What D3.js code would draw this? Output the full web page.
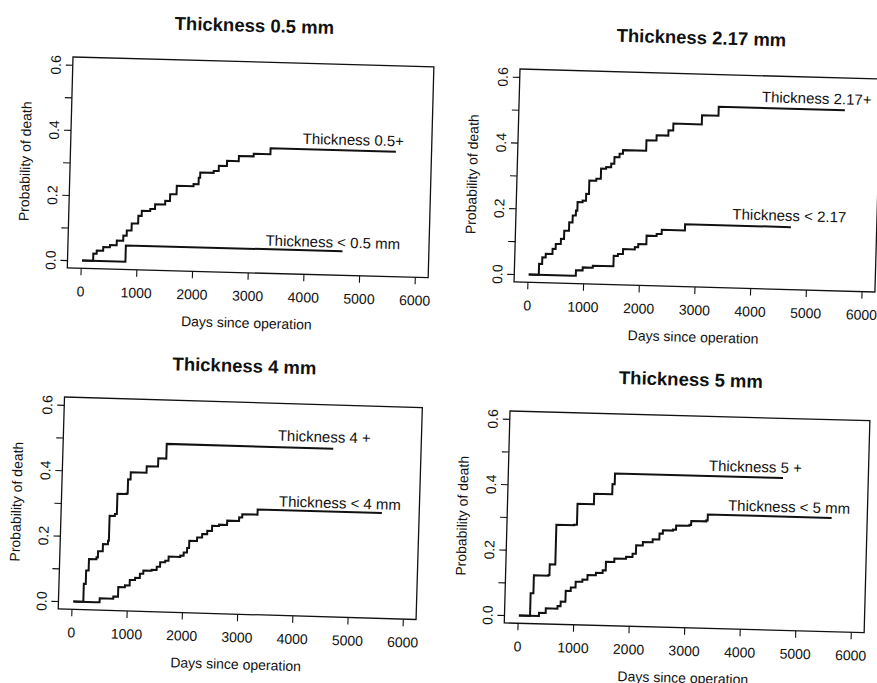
<!DOCTYPE html>
<html>
<head>
<meta charset="utf-8">
<script src="https://cdn.jsdelivr.net/npm/d3@7"></script>
<style>
  body { margin: 0; background: #fff; }
  text { font-family: "Liberation Sans", Arial, Helvetica, sans-serif; fill: #111; }
</style>
</head>
<body>
<svg id="chart" width="877" height="683"></svg>
<script>
// tick values shared by all four panels
const xTicks = [0, 1000, 2000, 3000, 4000, 5000, 6000];
const yTicks = [0, 0.1, 0.2, 0.3, 0.4, 0.5, 0.6];
const yTickLabels = ["0.0", "", "0.2", "", "0.4", "", "0.6"];

const titles = ["Thickness 0.5 mm", "Thickness 2.17 mm", "Thickness 4 mm", "Thickness 5 mm"];
const upperLabels = ["Thickness 0.5+", "Thickness 2.17+", "Thickness 4 +", "Thickness 5 +"];
const lowerLabels = ["Thickness < 0.5 mm", "Thickness < 2.17", "Thickness < 4 mm", "Thickness < 5 mm"];
// where each label starts, in data units [days, probability]
const upperLabelAt = [[3920, 0.377], [4115, 0.544], [3640, 0.51], [3365, 0.458]];
const lowerLabelAt = [[3305, 0.061], [3645, 0.185], [3695, 0.309], [3730, 0.338]];

// step curves [days, probability of death]
const above05 = [[20,0],[165,0],[220,0.022],[280,0.032],[395,0.043],[515,0.05],[635,0.064],[750,0.08],[810,0.096],[895,0.118],[1010,0.142],[1070,0.158],[1220,0.164],[1305,0.179],[1485,0.19],[1570,0.211],[1685,0.237],[1985,0.244],[2075,0.264],[2100,0.28],[2340,0.286],[2430,0.302],[2575,0.318],[2785,0.334],[3050,0.342],[3350,0.36],[5600,0.36]];
const below05 = [[20,0],[800,0.05],[4690,0.05]];

const above217 = [[20,0],[175,0],[200,0.033],[255,0.053],[315,0.064],[435,0.08],[490,0.095],[580,0.111],[635,0.136],[720,0.162],[780,0.183],[835,0.198],[860,0.224],[950,0.229],[1010,0.25],[1060,0.291],[1185,0.297],[1265,0.328],[1355,0.333],[1445,0.344],[1500,0.364],[1590,0.375],[1650,0.386],[2065,0.418],[2245,0.434],[2455,0.45],[2540,0.471],[3050,0.499],[3345,0.526],[5610,0.526]];
const below217 = [[20,0],[810,0],[865,0.017],[985,0.026],[1165,0.032],[1535,0.064],[1610,0.07],[1700,0.085],[1910,0.092],[1970,0.102],[2115,0.128],[2295,0.134],[2385,0.147],[2800,0.166],[4700,0.166]];

const above4 = [[30,0],[170,0],[210,0.055],[245,0.096],[290,0.131],[425,0.137],[450,0.156],[535,0.178],[625,0.189],[640,0.265],[735,0.271],[770,0.333],[935,0.335],[955,0.378],[1000,0.4],[1285,0.42],[1490,0.445],[1635,0.49],[4650,0.49]];
const below4 = [[30,0],[415,0],[505,0.012],[750,0.019],[835,0.048],[955,0.054],[1040,0.071],[1135,0.078],[1220,0.091],[1280,0.101],[1430,0.104],[1520,0.114],[1580,0.128],[1670,0.133],[1730,0.146],[1940,0.15],[2000,0.16],[2060,0.174],[2095,0.196],[2235,0.207],[2325,0.218],[2415,0.228],[2500,0.244],[2625,0.248],[2770,0.261],[2985,0.272],[3040,0.282],[3315,0.298],[5565,0.298]];

const above5 = [[20,0],[190,0],[220,0.069],[270,0.124],[530,0.126],[550,0.159],[650,0.28],[970,0.282],[1020,0.346],[1315,0.378],[1640,0.409],[1680,0.442],[4705,0.442]];
const below5 = [[20,0],[190,0],[380,0.01],[500,0.024],[710,0.032],[765,0.046],[850,0.079],[940,0.09],[1025,0.108],[1145,0.115],[1235,0.129],[1385,0.137],[1505,0.145],[1560,0.171],[1710,0.182],[1920,0.188],[2035,0.198],[2095,0.224],[2215,0.235],[2390,0.244],[2510,0.262],[2570,0.272],[2750,0.275],[2805,0.288],[3045,0.291],[3075,0.303],[3345,0.306],[3370,0.324],[5600,0.324]];

const uppers = [above05, above217, above4, above5];
const lowers = [below05, below217, below4, below5];

// the scan is a little tilted, so each box is rotated a bit
const layout = [
  { x: 73,  y: 57,  w: 361, h: 211, angle: 1.55 },
  { x: 520, y: 69,  w: 361, h: 213, angle: 1.6 },
  { x: 64.5, y: 397, w: 358, h: 212, angle: 1.7 },
  { x: 510, y: 411, w: 360, h: 212, angle: 1.55 }
];

const svg = d3.select("#chart");

layout.forEach((p, i) => {
  const g = svg.append("g")
    .attr("transform", `translate(${p.x},${p.y}) rotate(${p.angle})`);

  // R pads the range by 4% on both sides
  const x = d3.scaleLinear().domain([-240, 6240]).range([0, p.w]);
  const y = d3.scaleLinear().domain([-0.024, 0.624]).range([p.h, 0]);

  g.append("rect")
    .attr("width", p.w).attr("height", p.h)
    .attr("fill", "none").attr("stroke", "#111").attr("stroke-width", 1.3);

  const xAxis = g.append("g")
    .attr("transform", `translate(0,${p.h})`)
    .call(d3.axisBottom(x).tickValues(xTicks).tickSize(7).tickFormat(d3.format("d")));
  xAxis.select(".domain").remove();
  xAxis.selectAll("line").attr("stroke", "#111").attr("stroke-width", 1.1);
  xAxis.selectAll("text")
    .attr("y", 28).attr("dy", 0)
    .style("font-size", "14px").attr("fill", "#111");

  const yAxis = g.append("g")
    .call(d3.axisLeft(y).tickValues(yTicks).tickSize(7).tickFormat((d, k) => yTickLabels[k]));
  yAxis.select(".domain").remove();
  yAxis.selectAll("line").attr("stroke", "#111").attr("stroke-width", 1.1);
  // tick groups are already moved to their y, so only shift left and turn
  yAxis.selectAll("text")
    .attr("x", 0).attr("y", 0).attr("dy", 0)
    .attr("text-anchor", "middle")
    .attr("transform", "translate(-12,0) rotate(-90)")
    .style("font-size", "14px").attr("fill", "#111");

  const line = d3.line()
    .x(d => x(d[0]))
    .y(d => y(d[1]))
    .curve(d3.curveStepAfter);

  [uppers[i], lowers[i]].forEach(series => {
    g.append("path")
      .datum(series)
      .attr("d", line)
      .attr("fill", "none")
      .attr("stroke", "#111")
      .attr("stroke-width", 2);
  });

  g.append("text")
    .attr("x", x(upperLabelAt[i][0])).attr("y", y(upperLabelAt[i][1]))
    .style("font-size", "15px")
    .text(upperLabels[i]);
  g.append("text")
    .attr("x", x(lowerLabelAt[i][0])).attr("y", y(lowerLabelAt[i][1]))
    .style("font-size", "15px")
    .text(lowerLabels[i]);

  g.append("text")
    .attr("x", p.w / 2).attr("y", -30)
    .attr("text-anchor", "middle")
    .style("font-size", "18.5px").style("font-weight", "bold")
    .text(titles[i]);

  g.append("text")
    .attr("x", p.w / 2).attr("y", p.h + 55)
    .attr("text-anchor", "middle")
    .style("font-size", "14px")
    .text("Days since operation");

  g.append("text")
    .attr("transform", `translate(-40,${p.h / 2}) rotate(-90)`)
    .attr("text-anchor", "middle")
    .style("font-size", "14px")
    .text("Probability of death");
});
</script>
</body>
</html>
